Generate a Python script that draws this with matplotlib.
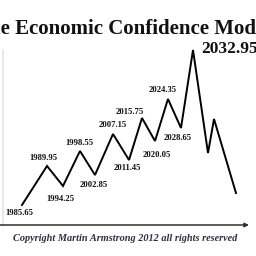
import matplotlib
matplotlib.use("Agg")
import matplotlib.pyplot as plt

# ---- data ----
t = [1985.65, 1992.57, 1996.99, 2001.69, 2005.84, 2010.82, 2015.25, 2018.84,
     2022.44, 2026.03, 2029.63, 2032.95, 2037.10, 2038.76, 2044.84]
conf = [19, 58, 38, 73, 49, 90, 64, 106, 83, 125, 96, 174, 71, 105, 31]
turn_labels = ["1985.65", "1989.95", "1994.25", "1998.55", "2002.85", "2007.15",
               "2011.45", "2015.75", "2020.05", "2024.35", "2028.65"]
peak_label = "2032.95"
title = "The Economic Confidence Model"
credit = "Copyright Martin Armstrong 2012 all rights reserved"

# ---- layout ----
W = H = 256
fig = plt.figure(figsize=(2.56, 2.56), dpi=100)
ax = fig.add_axes([0, 0, 1, 1])
px_per_year = 171 / 47.3
x0 = 1985.65 - 22 / px_per_year
ax.set_xlim(x0, x0 + W / px_per_year)
ax.set_ylim(224 - 256, 224)
ax.axis("off")

def px2data(px, py):
    return x0 + px / px_per_year, 224 - py

# faint left frame line
ax.plot(*zip(px2data(3, 50), px2data(3, 226)), color="#e4e4e4", lw=1.2)

# horizontal axis arrow
ax.annotate("", xy=px2data(249, 225), xytext=px2data(-2, 225),
            arrowprops=dict(arrowstyle="-|>", color="#303030", lw=1.1,
                            mutation_scale=6, shrinkA=0, shrinkB=0))

ax.plot(t, conf, color="black", lw=1.4, solid_joinstyle="miter")

# labels for turning points (offsets in pixels)
offs = [(-3, -8), (-4, 8), (-3, -13), (-1, 8), (-1, -10), (0, 9),
        (-2, -8), (-12, 6), (2, -14), (-5, 9), (-3, -10)]
for i, lab in enumerate(turn_labels):
    dx, dy = offs[i]
    ax.annotate(lab, (t[i], conf[i]), xytext=(dx * 0.72, dy * 0.72),
                textcoords="offset points", ha="center", va="center",
                fontsize=6.2, fontweight="bold", family="Liberation Serif",
                color="#111111")

fig.canvas.draw()
r = fig.canvas.get_renderer()

# title: fit visible part "e Economic Confidence Mod" to figure width
fs = 12
tmp = fig.text(0, 0, "e Economic Confidence Mod", fontsize=fs, fontweight="bold",
               family="Liberation Serif")
w = tmp.get_window_extent(r).width
tmp.remove()
fs = fs * 255 / w
tmp = fig.text(0, 0, "Th", fontsize=fs, fontweight="bold", family="Liberation Serif")
wth = tmp.get_window_extent(r).width
tmp.remove()
fig.text((1 - wth) / W, 1 - 34 / H, title, fontsize=fs, fontweight="bold",
         family="Liberation Serif", ha="left", va="baseline", color="#111111")

fig.text(201 / W, 1 - 53 / H, peak_label, fontsize=12.5, fontweight="bold",
         family="Liberation Serif", ha="left", va="baseline", color="#111111")

# credit line
fs2 = 7
tmp = fig.text(0, 0, credit, fontsize=fs2, fontweight="bold", style="italic",
               family="Liberation Serif")
w2 = tmp.get_window_extent(r).width
tmp.remove()
fs2 = fs2 * 226 / w2
fig.text(125 / W, 1 - 241 / H, credit, fontsize=fs2, fontweight="bold",
         style="italic", family="Liberation Serif", ha="center", va="baseline",
         color="#2c2f3f")

fig.savefig("out.png", dpi=100, facecolor="white")
